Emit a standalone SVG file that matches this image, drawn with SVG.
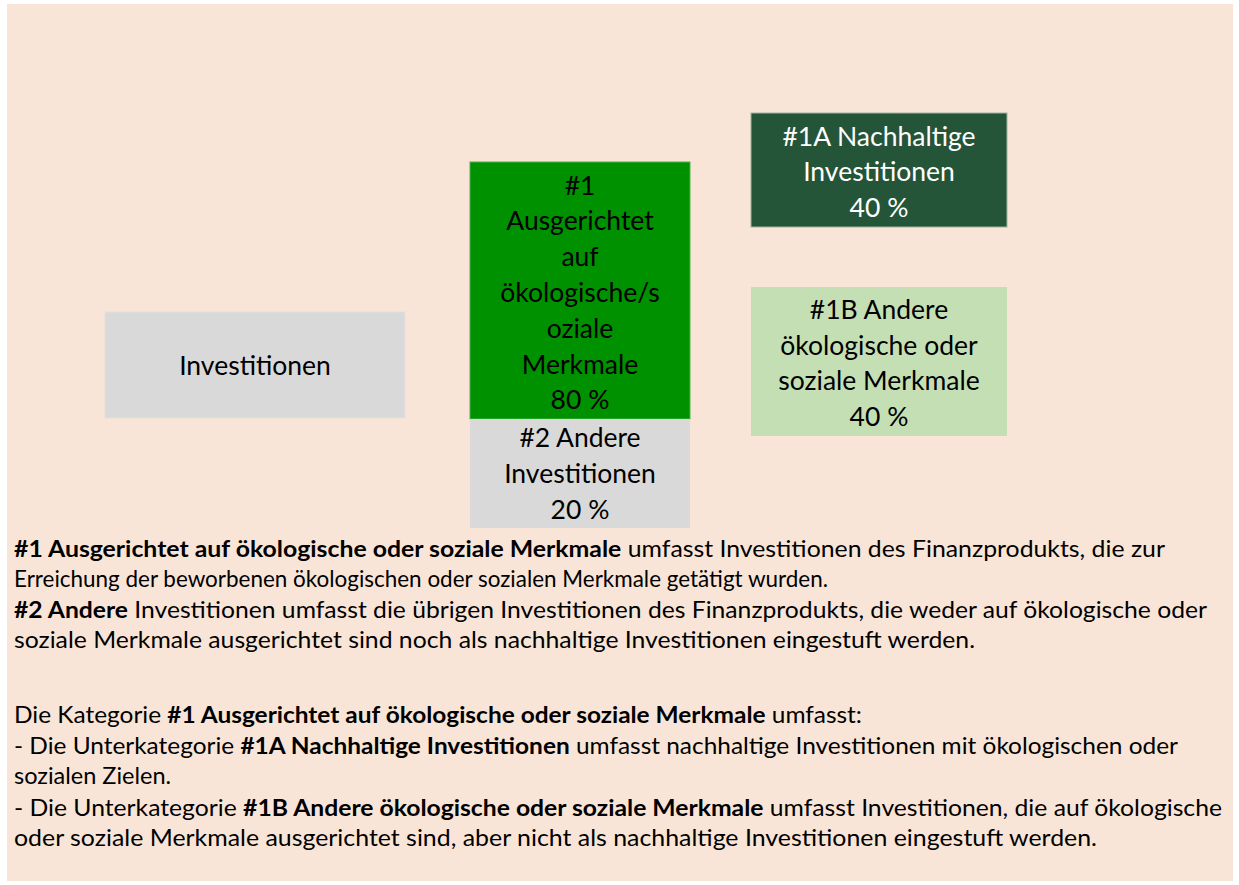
<svg xmlns="http://www.w3.org/2000/svg" width="1239" height="885" viewBox="0 0 1239 885">
<style>
.bx{font-family:Lato,"Liberation Sans",sans-serif;font-size:26.5px;text-anchor:middle;fill:#000}
.w{fill:#fff}
.t{font-family:Lato,"Liberation Sans",sans-serif;font-size:23.5px;fill:#000}
.b{font-weight:bold}
</style>
<rect x="0" y="0" width="1239" height="885" fill="#ffffff"/>
<rect x="7" y="4" width="1226" height="877" fill="#F9E5D7"/>
<g id="connectors"></g>
<g id="investitionen">
<rect x="105" y="312" width="300" height="106" fill="#D9D9D9" stroke="#E4E0DC" stroke-width="1"/>
<text class="bx" x="255" y="375">Investitionen</text>
</g>
<g id="n1">
<rect x="470" y="162" width="220" height="257" fill="#009100" stroke="#4DB04D" stroke-width="1"/>
<text class="bx" x="580" y="195">#1</text>
<text class="bx" x="580" y="230">Ausgerichtet</text>
<text class="bx" x="580" y="266">auf</text>
<text class="bx" x="580" y="302">ökologische/s</text>
<text class="bx" x="580" y="338">oziale</text>
<text class="bx" x="580" y="374">Merkmale</text>
<text class="bx" x="580" y="409">80 %</text>
</g>
<g id="n2">
<rect x="470" y="419" width="220" height="109" fill="#D9D9D9"/>
<text class="bx" x="580" y="447">#2 Andere</text>
<text class="bx" x="580" y="483">Investitionen</text>
<text class="bx" x="580" y="519">20 %</text>
</g>
<g id="n1a">
<rect x="751" y="113" width="256" height="114" fill="#245539" stroke="#9DB3A0" stroke-width="1"/>
<text class="bx w" x="879" y="146">#1A Nachhaltige</text>
<text class="bx w" x="879" y="181">Investitionen</text>
<text class="bx w" x="879" y="217">40 %</text>
</g>
<g id="n1b">
<rect x="751" y="287" width="256" height="149" fill="#C5DFB5"/>
<text class="bx" x="879" y="319">#1B Andere</text>
<text class="bx" x="879" y="355">ökologische oder</text>
<text class="bx" x="879" y="390">soziale Merkmale</text>
<text class="bx" x="879" y="426">40 %</text>
</g>
<g id="legend">
<text class="t" x="14" y="557" textLength="1151" lengthAdjust="spacingAndGlyphs"><tspan class="b">#1 Ausgerichtet auf ökologische oder soziale Merkmale</tspan> umfasst Investitionen des Finanzprodukts, die zur</text>
<text class="t" x="14" y="587" textLength="814" lengthAdjust="spacingAndGlyphs">Erreichung der beworbenen ökologischen oder sozialen Merkmale getätigt wurden.</text>
<text class="t" x="14" y="618" textLength="1193" lengthAdjust="spacingAndGlyphs"><tspan class="b">#2 Andere</tspan> Investitionen umfasst die übrigen Investitionen des Finanzprodukts, die weder auf ökologische oder</text>
<text class="t" x="14" y="648" textLength="961" lengthAdjust="spacingAndGlyphs">soziale Merkmale ausgerichtet sind noch als nachhaltige Investitionen eingestuft werden.</text>
<text class="t" x="14" y="723" textLength="848" lengthAdjust="spacingAndGlyphs">Die Kategorie <tspan class="b">#1 Ausgerichtet auf ökologische oder soziale Merkmale</tspan> umfasst:</text>
<text class="t" x="14" y="754" textLength="1164" lengthAdjust="spacingAndGlyphs">- Die Unterkategorie <tspan class="b">#1A Nachhaltige Investitionen</tspan> umfasst nachhaltige Investitionen mit ökologischen oder</text>
<text class="t" x="14" y="784">sozialen Zielen.</text>
<text class="t" x="14" y="816" textLength="1208" lengthAdjust="spacingAndGlyphs">- Die Unterkategorie <tspan class="b">#1B Andere ökologische oder soziale Merkmale</tspan> umfasst Investitionen, die auf ökologische</text>
<text class="t" x="14" y="846" textLength="1083" lengthAdjust="spacingAndGlyphs">oder soziale Merkmale ausgerichtet sind, aber nicht als nachhaltige Investitionen eingestuft werden.</text>
</g>
</svg>
